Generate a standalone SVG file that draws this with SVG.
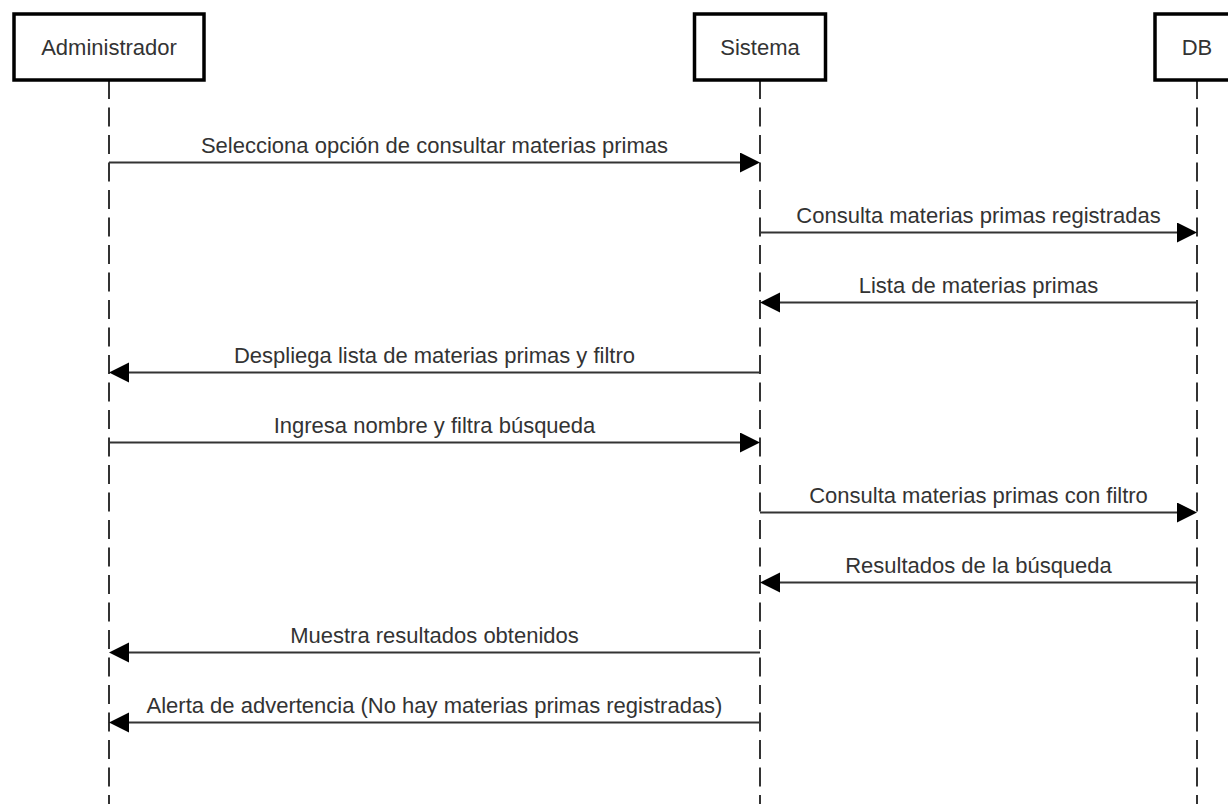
<svg xmlns="http://www.w3.org/2000/svg" width="1228" height="804" viewBox="0 0 1228 804">
<style>
  .life { stroke: #333333; stroke-width: 2; stroke-dasharray: 19 8.5; fill: none; }
  .box { fill: #ffffff; stroke: #000000; stroke-width: 3.5; }
  .msg { stroke: #333333; stroke-width: 2; fill: none; marker-end: url(#arrow); }
  text { font-family: "Liberation Sans", Arial, sans-serif; font-size: 22px; fill: #333333; text-anchor: middle; }
</style>
<defs>
  <marker id="arrow" markerUnits="userSpaceOnUse" markerWidth="21" markerHeight="21" refX="10" refY="10" orient="auto" viewBox="0 0 21 21">
    <path d="M0,0 L20,10 L0,20 Z" fill="#000000"/>
  </marker>
</defs>
<rect x="0" y="0" width="1228" height="804" fill="#ffffff"/>
<g id="lifelines">
  <line class="life" x1="109" y1="80" x2="109" y2="804"/>
  <line class="life" x1="760" y1="80" x2="760" y2="804"/>
  <line class="life" x1="1197" y1="80" x2="1197" y2="804"/>
</g>
<g id="node-administrador">
  <rect class="box" x="14" y="14" width="190" height="66"/>
  <text x="109" y="55">Administrador</text>
</g>
<g id="node-sistema">
  <rect class="box" x="694.5" y="14" width="131" height="66"/>
  <text x="760" y="55">Sistema</text>
</g>
<g id="node-db">
  <rect class="box" x="1155" y="14" width="84" height="66"/>
  <text x="1197" y="55">DB</text>
</g>
<g id="connectors">
  <line class="msg" x1="109" y1="162.5" x2="750" y2="162.5"/>
  <text x="434.5" y="152.5">Selecciona opción de consultar materias primas</text>
  <line class="msg" x1="760" y1="232.5" x2="1187" y2="232.5"/>
  <text x="978.5" y="222.5">Consulta materias primas registradas</text>
  <line class="msg" x1="1197" y1="302.5" x2="770" y2="302.5"/>
  <text x="978.5" y="292.5">Lista de materias primas</text>
  <line class="msg" x1="760" y1="372.5" x2="119" y2="372.5"/>
  <text x="434.5" y="362.5">Despliega lista de materias primas y filtro</text>
  <line class="msg" x1="109" y1="442.5" x2="750" y2="442.5"/>
  <text x="434.5" y="432.5">Ingresa nombre y filtra búsqueda</text>
  <line class="msg" x1="760" y1="512.5" x2="1187" y2="512.5"/>
  <text x="978.5" y="502.5">Consulta materias primas con filtro</text>
  <line class="msg" x1="1197" y1="582.5" x2="770" y2="582.5"/>
  <text x="978.5" y="572.5">Resultados de la búsqueda</text>
  <line class="msg" x1="760" y1="652.5" x2="119" y2="652.5"/>
  <text x="434.5" y="642.5">Muestra resultados obtenidos</text>
  <line class="msg" x1="760" y1="722.5" x2="119" y2="722.5"/>
  <text x="434.5" y="712.5">Alerta de advertencia (No hay materias primas registradas)</text>
</g>
</svg>
